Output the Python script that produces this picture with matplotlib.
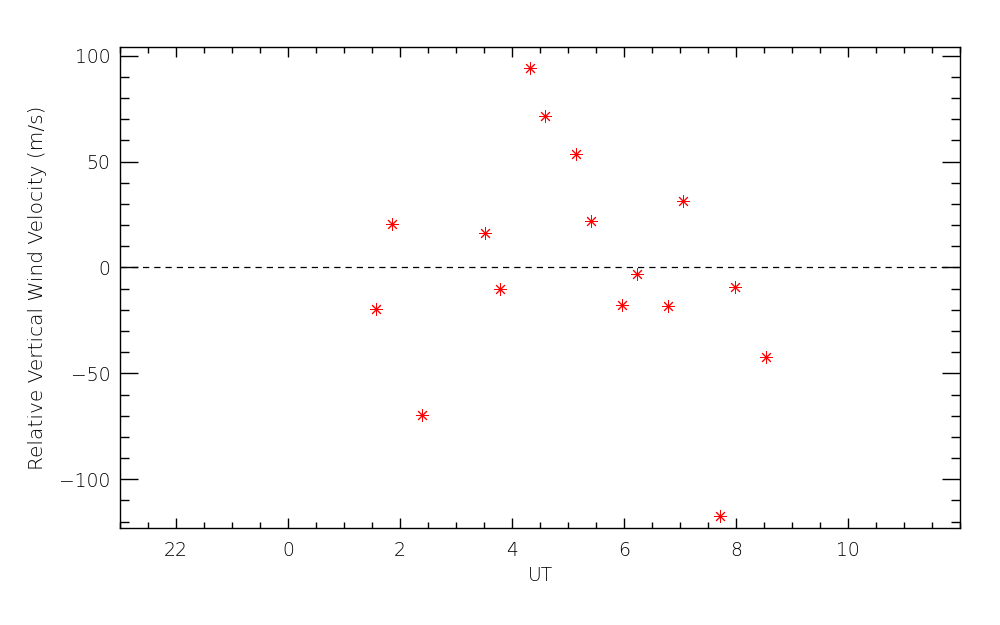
import numpy as np
import matplotlib
matplotlib.use('Agg')
import matplotlib.pyplot as plt
from matplotlib.ticker import MultipleLocator, FixedLocator, FuncFormatter

# UT hours (after midnight written as 24+)
ut = [25.58, 25.85, 26.40, 27.51, 27.78, 28.32, 28.59, 29.15,
      29.41, 29.96, 30.23, 30.79, 31.06, 31.72, 31.99, 32.54]
vel = [-19.5, 20.6, -69.5, 16.4, -10.0, 94.1, 71.4, 53.8,
       22.0, -17.6, -3.0, -18.4, 31.3, -117.6, -9.0, -42.1]

x_range = [21, 36]
y_range = [-123.2, 104.3]
x_major = [22, 24, 26, 28, 30, 32, 34]

plt.rcParams['font.family'] = ['DejaVu Sans']
plt.rcParams['font.weight'] = 'light'
plt.rcParams['axes.labelweight'] = 'light'
fig = plt.figure(figsize=(10, 6.25), dpi=100)
ax = fig.add_axes([0.12, 0.1547, 0.84, 0.7706])

ax.plot(x_range, [0, 0], color='black', lw=0.9, ls=(0, (5, 4)))
ax.plot(ut, vel, ls='none', marker=(8, 2, 0), ms=9, mew=0.7,
        color='red', mec='red')

ax.set_xlim(x_range)
ax.set_ylim(y_range)

ax.xaxis.set_major_locator(FixedLocator(x_major))
ax.xaxis.set_minor_locator(MultipleLocator(0.5))
ax.xaxis.set_major_formatter(FuncFormatter(lambda v, p: '%d' % (int(round(v)) % 24)))
ax.yaxis.set_major_locator(MultipleLocator(50))
ax.yaxis.set_minor_locator(MultipleLocator(10))
ax.yaxis.set_major_formatter(FuncFormatter(lambda v, p: '\u2212%d' % -v if v < 0 else '%d' % v))

ax.tick_params(axis='both', which='both', direction='in', top=True, right=True,
               width=1, color='black', labelsize=13.5, labelcolor='black')
ax.tick_params(axis='x', which='major', length=7.2, pad=9)
ax.tick_params(axis='x', which='minor', length=4)
ax.tick_params(axis='y', which='major', length=13, pad=7)
ax.tick_params(axis='y', which='minor', length=6.5)
for s in ax.spines.values():
    s.set_linewidth(1)

ax.set_xlabel('UT', fontsize=13.5)
ax.set_ylabel('Relative Vertical Wind Velocity (m/s)', fontsize=14.5)
ax.xaxis.set_label_coords(0.5, -0.078)
ax.yaxis.set_label_coords(-0.087, 0.5)

fig.savefig('out.png', dpi=100)
